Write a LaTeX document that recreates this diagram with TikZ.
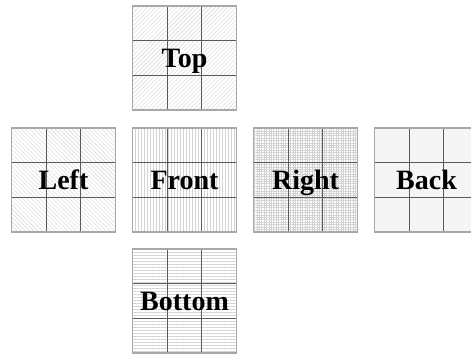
\documentclass[tikz,border=0pt]{standalone}
\usepackage{fontspec}
\setmainfont{Liberation Serif}
\usetikzlibrary{calc, patterns.meta}
\definecolor{hatchgray}{HTML}{D2D2D2}
\definecolor{cellgray}{HTML}{5A5A5A}
\definecolor{edgegray}{HTML}{A8A8A8}

\begin{document}
\begin{tikzpicture}[
    x=0.5pt, y=-0.5pt,
    face/.style={draw=edgegray, line width=0.8pt, minimum size=52pt, inner sep=0pt,
      pattern={#1}, pattern color=hatchgray,
      text height=9.3pt, text depth=0pt,
      font=\fontsize{14}{16}\selectfont\bfseries,
      path picture={
        \foreach \i in {1,2} {
          \draw[cellgray, line width=0.4pt]
            ($(path picture bounding box.north west)!\i/3!(path picture bounding box.north east)$) --
            ($(path picture bounding box.south west)!\i/3!(path picture bounding box.south east)$);
          \draw[cellgray, line width=0.4pt]
            ($(path picture bounding box.north west)!\i/3!(path picture bounding box.south west)$) --
            ($(path picture bounding box.north east)!\i/3!(path picture bounding box.south east)$);
        }
      }},
]
    \useasboundingbox (0,0) rectangle (471,354);

    % Faces of the net
    \node[face={Lines[angle=45, distance=1.5pt, line width=0.2pt]}] (top) at (184.5,58) {Top};
    \node[face={Lines[angle=-45, distance=1.5pt, line width=0.2pt]}] (left) at (63.5,180) {Left};
    \node[face={Lines[angle=90, distance=1.5pt, line width=0.2pt]}] (front) at (184.5,180) {Front};
    \node[face={Hatch[angle=0, distance=1.2pt, line width=0.15pt]}] (right) at (305.5,180) {Right};
    \node[face={Dots[distance=1pt, radius=0.35pt]}] (back) at (426.5,180) {Back};
    \node[face={Lines[angle=0, distance=1.5pt, line width=0.2pt]}] (bottom) at (184.5,301) {Bottom};

\end{tikzpicture}
\end{document}
